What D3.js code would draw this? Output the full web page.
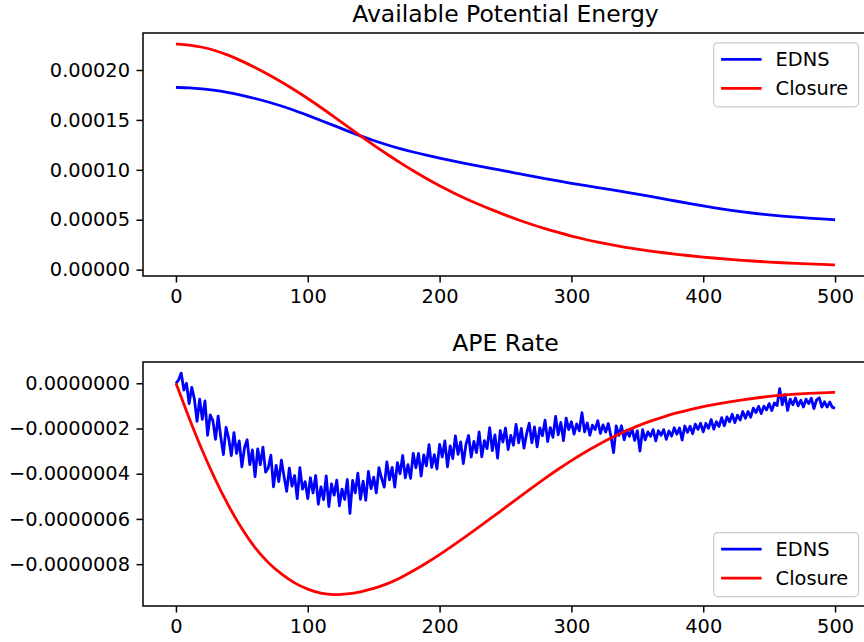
<!DOCTYPE html>
<html>
<head>
<meta charset="utf-8">
<script src="https://cdn.jsdelivr.net/npm/d3@7"></script>
<style>
  body { margin: 0; background: #fff; }
  svg { display: block; font-family: "DejaVu Sans", sans-serif; }
</style>
</head>
<body>
<div id="chart"></div>
<script>
// top panel, values in units of 1e-6, sampled every 10 steps
var apeStep = d3.range(0, 501, 10);
var apeEdns = [182.5, 182.2, 181.2, 179.6, 177.4, 174.7, 171.5, 168, 164, 159.5,
  154.5, 149.5, 144.3, 139, 134, 129.3, 125, 121.2, 117.8, 114.7,
  111.8, 109, 106.3, 103.7, 101.2, 98.8, 96.2, 93.7, 91.2, 88.8,
  86.5, 84.3, 82.2, 80.1, 78, 75.8, 73.4, 71, 68.5, 66.1,
  63.8, 61.6, 59.6, 57.8, 56.2, 54.8, 53.6, 52.6, 51.6, 50.8, 50];
var apeClosure = [226, 225.2, 223, 219.5, 214.8, 209, 202.5, 195.5, 188, 180,
  171.5, 162.5, 153, 143.5, 134, 124.8, 115.8, 107.2, 99, 91.2,
  84, 77.3, 71, 65.2, 59.8, 54.6, 49.7, 45.2, 41.1, 37.2,
  33.6, 30.4, 27.5, 24.9, 22.6, 20.5, 18.6, 16.9, 15.3, 13.9,
  12.6, 11.4, 10.3, 9.3, 8.4, 7.6, 6.9, 6.3, 5.7, 5.2, 4.7];

// bottom panel, values in units of 1e-7
var rateStep = d3.range(0, 501, 2);
var rateEdns = [0.00, 0.15, 0.45, -0.30, 0.00, -0.90, -0.18, -0.70, -1.68, -0.70,
  -1.60, -0.78, -2.30, -1.40, -1.65, -2.48, -1.45, -2.38, -3.15, -1.95,
  -2.43, -3.20, -2.18, -3.10, -2.55, -3.70, -2.85, -2.50, -3.60, -2.95,
  -4.13, -2.90, -3.60, -2.83, -3.93, -3.75, -3.18, -4.58, -3.63, -4.35,
  -3.40, -4.13, -4.78, -3.75, -4.55, -4.08, -5.10, -3.73, -4.68, -4.35,
  -5.10, -4.18, -4.85, -4.08, -5.35, -4.58, -5.15, -4.10, -5.45, -4.45,
  -4.95, -4.28, -5.42, -4.68, -5.14, -4.25, -5.75, -4.30, -4.85, -3.98,
  -5.13, -4.33, -5.18, -3.90, -4.66, -4.15, -4.85, -3.73, -4.20, -4.59,
  -3.48, -4.27, -3.72, -4.59, -3.51, -4.00, -3.19, -4.18, -3.60, -4.21,
  -3.10, -3.74, -3.10, -4.10, -3.17, -3.65, -2.71, -3.72, -3.16, -3.79,
  -2.70, -3.26, -2.55, -3.70, -2.77, -3.33, -2.33, -3.14, -2.59, -3.55,
  -2.70, -2.31, -3.26, -2.57, -3.07, -2.15, -3.25, -2.54, -2.89, -1.96,
  -2.98, -2.28, -3.31, -2.09, -2.60, -1.98, -2.93, -2.31, -2.74, -1.82,
  -2.63, -2.00, -2.87, -2.24, -1.76, -2.63, -1.93, -2.81, -1.97, -2.32,
  -1.63, -2.58, -1.96, -2.39, -1.47, -2.28, -1.73, -2.54, -1.54, -2.05,
  -1.70, -2.25, -1.80, -2.10, -1.30, -2.15, -1.75, -2.30, -1.85, -2.05,
  -1.65, -2.22, -1.84, -2.16, -1.78, -2.35, -3.07, -1.89, -2.31, -1.88,
  -2.50, -2.07, -2.34, -2.01, -2.53, -2.10, -3.00, -2.05, -2.50, -2.15,
  -2.35, -2.05, -2.55, -2.10, -2.30, -2.05, -2.48, -2.11, -2.34, -1.97,
  -2.25, -1.98, -2.51, -1.89, -2.17, -1.90, -2.23, -1.81, -2.04, -1.77,
  -2.15, -1.77, -1.99, -1.61, -2.03, -1.70, -1.91, -1.52, -1.88, -1.49,
  -1.70, -1.37, -1.74, -1.41, -1.63, -1.25, -1.55, -1.25, -1.50, -1.10,
  -1.30, -1.02, -1.34, -1.01, -1.18, -0.90, -1.21, -0.87, -0.98, -0.24,
  -0.95, -0.50, -1.20, -0.70, -0.95, -0.65, -1.00, -0.75, -1.05, -0.70,
  -0.90, -0.66, -1.12, -0.73, -0.64, -1.05, -0.82, -1.05, -0.83, -1.07, -1.10];
var rateClosure = [0, -1.55, -3.0, -4.3, -5.45, -6.45, -7.3, -7.95, -8.45, -8.85,
  -9.12, -9.3, -9.36, -9.33, -9.23, -9.08, -8.88, -8.62, -8.3, -7.95,
  -7.58, -7.18, -6.77, -6.35, -5.92, -5.49, -5.06, -4.63, -4.2, -3.8,
  -3.42, -3.06, -2.73, -2.42, -2.14, -1.89, -1.67, -1.48, -1.31, -1.16,
  -1.03, -0.92, -0.82, -0.73, -0.65, -0.58, -0.52, -0.48, -0.45, -0.42, -0.40];

var xTicks = [0, 100, 200, 300, 400, 500];
var apeTicks = [0, 0.00005, 0.0001, 0.00015, 0.0002];
var rateTicks = [-8e-7, -6e-7, -4e-7, -2e-7, 0];
var seriesNames = ["EDNS", "Closure"];
var seriesColors = ["#0000ff", "#ff0000"];

var width = 864, height = 642;
var fs = 19.4;
var tickLen = 6.5, tickPad = 6.5;

var svg = d3.select("#chart").append("svg")
    .attr("width", width)
    .attr("height", height);

function toPoints(xs, ys, unit) {
    return xs.map(function(x, i) { return [x, ys[i] * unit]; });
}

function panel(opts) {
    var left = 143, right = 868;
    var x = d3.scaleLinear().domain([-25, 525]).range([left, right]);

    var all = [];
    opts.series.forEach(function(s) { s.forEach(function(p) { all.push(p[1]); }); });
    var lo = d3.min(all), hi = d3.max(all), pad = (hi - lo) * 0.05;
    var y = d3.scaleLinear().domain([lo - pad, hi + pad]).range([opts.bottom, opts.top]);

    var g = svg.append("g");

    var line = d3.line()
        .x(function(d) { return x(d[0]); })
        .y(function(d) { return y(d[1]); });

    opts.series.forEach(function(s, i) {
        g.append("path")
            .datum(s)
            .attr("fill", "none")
            .attr("stroke", seriesColors[i])
            .attr("stroke-width", 2.8)
            .attr("stroke-linejoin", "round")
            .attr("d", line.curve(opts.smooth[i] ? d3.curveBasis : d3.curveLinear));
    });

    // frame
    g.append("rect")
        .attr("x", left).attr("y", opts.top)
        .attr("width", right - left).attr("height", opts.bottom - opts.top)
        .attr("fill", "none").attr("stroke", "#000").attr("stroke-width", 1.5);

    var xAxis = g.append("g")
        .attr("transform", "translate(0," + opts.bottom + ")")
        .call(d3.axisBottom(x).tickValues(xTicks).tickSize(tickLen).tickPadding(tickPad));
    var yAxis = g.append("g")
        .attr("transform", "translate(" + left + ",0)")
        .call(d3.axisLeft(y).tickValues(opts.ticks).tickFormat(opts.fmt)
            .tickSize(tickLen).tickPadding(tickPad));

    [xAxis, yAxis].forEach(function(a) {
        a.select(".domain").remove();
        a.selectAll("line").attr("stroke", "#000").attr("stroke-width", 1.5);
        a.selectAll("text").attr("fill", "#000")
            .style("font-size", fs + "px")
            .style("font-family", "DejaVu Sans");
    });

    g.append("text")
        .attr("x", (left + right) / 2)
        .attr("y", opts.top - 11.5)
        .attr("text-anchor", "middle")
        .style("font-size", "23.5px")
        .text(opts.title);

    // legend
    var lgW = 145, lgH = 64;
    var lgX = right - 9.4 - lgW;
    var lgY = opts.legendTop ? opts.top + 9.8 : opts.bottom - 9.4 - lgH;
    var lg = g.append("g").attr("transform", "translate(" + lgX + "," + lgY + ")");
    lg.append("rect")
        .attr("width", lgW).attr("height", lgH)
        .attr("rx", 4).attr("ry", 4)
        .attr("fill", "#fff").attr("fill-opacity", 0.8)
        .attr("stroke", "#cccccc").attr("stroke-width", 1.2);
    seriesNames.forEach(function(name, i) {
        var cy = 16.5 + i * 29;
        lg.append("line")
            .attr("x1", 7.5).attr("x2", 48)
            .attr("y1", cy).attr("y2", cy)
            .attr("stroke", seriesColors[i]).attr("stroke-width", 2.8);
        lg.append("text")
            .attr("x", 62).attr("y", cy)
            .attr("dy", "0.36em")
            .style("font-size", fs + "px")
            .text(name);
    });
}

panel({
    top: 33, bottom: 276,
    title: "Available Potential Energy",
    series: [toPoints(apeStep, apeEdns, 1e-6), toPoints(apeStep, apeClosure, 1e-6)],
    smooth: [true, true],
    ticks: apeTicks,
    fmt: d3.format(".5f"),
    legendTop: true
});

panel({
    top: 362, bottom: 606,
    title: "APE Rate",
    series: [toPoints(rateStep, rateEdns, 1e-7), toPoints(apeStep, rateClosure, 1e-7)],
    smooth: [false, true],
    ticks: rateTicks,
    fmt: d3.format(".7f"),
    legendTop: false
});
</script>
</body>
</html>
